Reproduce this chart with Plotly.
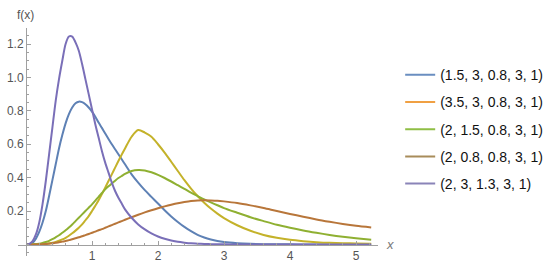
import plotly.graph_objects as go

x_vals = [0, 0.05, 0.1, 0.15, 0.2, 0.25, 0.3, 0.35, 0.4, 0.45, 0.5, 0.55, 0.6, 0.65, 0.7, 0.75,
          0.8, 0.85, 0.9, 0.95, 1.0, 1.05, 1.1, 1.15, 1.2, 1.25, 1.3, 1.35, 1.4, 1.45, 1.5,
          1.6, 1.7, 1.8, 1.9, 2.0, 2.1, 2.2, 2.3, 2.4, 2.5, 2.6, 2.7, 2.8, 2.9, 3.0,
          3.2, 3.4, 3.6, 3.8, 4.0, 4.2, 4.4, 4.6, 4.8, 5.0, 5.23]

series_names = ["(1.5, 3, 0.8, 3, 1)", "(3.5, 3, 0.8, 3, 1)", "(2, 1.5, 0.8, 3, 1)",
                "(2, 0.8, 0.8, 3, 1)", "(2, 3, 1.3, 3, 1)"]

blue = [0, 0.002, 0.01, 0.035, 0.075, 0.13, 0.2, 0.29, 0.385, 0.48, 0.575, 0.655, 0.725, 0.78, 0.82, 0.845,
        0.855, 0.852, 0.84, 0.82, 0.795, 0.765, 0.73, 0.698, 0.665, 0.632, 0.6, 0.57, 0.54, 0.51, 0.48,
        0.42, 0.37, 0.325, 0.285, 0.245, 0.205, 0.168, 0.135, 0.105, 0.08, 0.058, 0.042, 0.03, 0.021, 0.015,
        0.008, 0.004, 0.002, 0.001, 0.001, 0, 0, 0, 0, 0, 0]

orange = [0, 0, 0, 0.001, 0.001, 0.002, 0.004, 0.007, 0.01, 0.015, 0.022, 0.03, 0.04, 0.052, 0.067, 0.083,
          0.1, 0.12, 0.145, 0.17, 0.2, 0.232, 0.265, 0.302, 0.34, 0.38, 0.42, 0.46, 0.5, 0.538, 0.575,
          0.645, 0.685, 0.67, 0.645, 0.6, 0.55, 0.495, 0.44, 0.385, 0.335, 0.29, 0.25, 0.215, 0.185, 0.158,
          0.115, 0.082, 0.057, 0.04, 0.028, 0.02, 0.014, 0.01, 0.008, 0.006, 0.004]

green = [0, 0, 0.001, 0.003, 0.005, 0.009, 0.015, 0.022, 0.032, 0.043, 0.055, 0.07, 0.085, 0.102, 0.12, 0.14,
         0.16, 0.18, 0.2, 0.22, 0.24, 0.262, 0.285, 0.308, 0.33, 0.348, 0.365, 0.382, 0.398, 0.41, 0.422,
         0.44, 0.446, 0.443, 0.432, 0.417, 0.398, 0.377, 0.355, 0.333, 0.31, 0.29, 0.27, 0.252, 0.235, 0.218,
         0.19, 0.163, 0.14, 0.118, 0.1, 0.084, 0.07, 0.057, 0.046, 0.037, 0.028]

brown = [0, 0, 0, 0, 0.001, 0.002, 0.003, 0.005, 0.007, 0.01, 0.013, 0.017, 0.021, 0.026, 0.031, 0.037,
         0.043, 0.049, 0.056, 0.063, 0.07, 0.077, 0.085, 0.092, 0.1, 0.108, 0.116, 0.124, 0.132, 0.14, 0.148,
         0.163, 0.178, 0.192, 0.205, 0.217, 0.228, 0.238, 0.247, 0.254, 0.26, 0.264, 0.265, 0.264, 0.262, 0.258,
         0.248, 0.234, 0.218, 0.2, 0.183, 0.166, 0.15, 0.136, 0.123, 0.112, 0.102]

purple = [0, 0.003, 0.02, 0.06, 0.13, 0.24, 0.38, 0.54, 0.70, 0.86, 0.99, 1.10, 1.20, 1.245, 1.245, 1.21,
          1.16, 1.08, 0.99, 0.90, 0.81, 0.72, 0.64, 0.56, 0.49, 0.43, 0.37, 0.32, 0.28, 0.245, 0.21,
          0.16, 0.12, 0.09, 0.066, 0.048, 0.034, 0.024, 0.016, 0.011, 0.007, 0.005, 0.003, 0.002, 0.001, 0.001,
          0, 0, 0, 0, 0, 0, 0, 0, 0, 0, 0]

x_ticks = [1, 2, 3, 4, 5]
y_ticks = [0.2, 0.4, 0.6, 0.8, 1.0, 1.2]
y_tick_text = ["0.2", "0.4", "0.6", "0.8", "1.0", "1.2"]

all_series = [blue, orange, green, brown, purple]
curve_colors = ["#5E81B5", "#C4B22A", "#8FB032", "#B8763A", "#7A6FB8"]
legend_colors = ["#6A8EC0", "#F0A043", "#8FBE45", "#A88C5A", "#8A84B8"]

fig = go.Figure()
for i, ys in enumerate(all_series):
    fig.add_trace(go.Scatter(x=x_vals, y=ys, mode="lines", showlegend=False,
                             line=dict(color=curve_colors[i], width=2, shape="spline", smoothing=0.8),
                             hoverinfo="skip"))
for i, name in enumerate(series_names):
    fig.add_trace(go.Scatter(x=[None], y=[None], mode="lines", name=name,
                             legendgroup=str(i),
                             line=dict(color=legend_colors[i], width=2)))

axis_col = "#A0A0A0"
fig.update_layout(
    width=550, height=266,
    margin=dict(l=18, r=172, t=28, b=10, autoexpand=False),
    paper_bgcolor="white", plot_bgcolor="white",
    font=dict(family="Liberation Sans, Arial, sans-serif", size=12, color="#555555"),
    xaxis=dict(range=[-0.1212, 5.333], showgrid=False, zeroline=False, automargin=False,
               anchor="free", position=0.0504, showline=True, linecolor=axis_col, linewidth=1,
               tickvals=x_ticks, ticks="inside", ticklen=4, tickcolor=axis_col,
               minor=dict(dtick=0.2, tick0=0, ticks="inside", ticklen=2, tickcolor=axis_col),
               tickfont=dict(size=12, color="#555555")),
    yaxis=dict(range=[-0.069, 1.296], showgrid=False, zeroline=False, automargin=False,
               anchor="free", position=0.0222, showline=True, linecolor=axis_col, linewidth=1,
               tickvals=y_ticks, ticktext=y_tick_text, ticks="inside", ticklen=4, tickcolor=axis_col,
               minor=dict(dtick=0.05, tick0=0, ticks="inside", ticklen=2, tickcolor=axis_col),
               tickfont=dict(size=12, color="#555555")),
    legend=dict(xref="container", yref="container", x=0.7276, y=0.7775, xanchor="left", yanchor="top",
                font=dict(size=14, color="#111111"), tracegroupgap=6, traceorder="grouped",
                bgcolor="rgba(0,0,0,0)", maxheight=250),
    annotations=[
        dict(text="f(x)", xref="paper", yref="paper", x=0.0, y=1.0, xanchor="left", yanchor="bottom",
             xshift=-3, yshift=4, showarrow=False, font=dict(size=12, color="#555555")),
        dict(text="<i>x</i>", xref="paper", yref="paper", x=1.0, y=0.0504, xanchor="left", yanchor="middle",
             xshift=6, showarrow=False, font=dict(size=13, color="#777777")),
    ],
)

fig.write_html("out.html", config={"displayModeBar": False},
               post_script="document.body.style.margin='0px';")
